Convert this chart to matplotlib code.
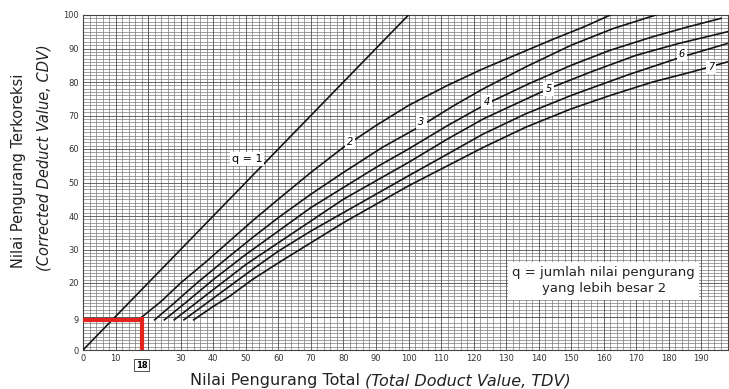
import matplotlib.pyplot as plt
import numpy as np

# Corrected deduct value curves (TDV -> CDV)
tdv_q1 = [0, 100]
cdv_q1 = [0, 100]

tdv_q2 = [17, 24, 30, 38, 45, 52, 60, 70, 80, 90, 100, 112, 123, 134, 145, 154, 162]
cdv_q2 = [9, 14.5, 20, 26.5, 32.5, 38.5, 45, 53, 60.5, 67, 73, 79, 84, 88.5, 93, 96.5, 100]

tdv_q3 = [22, 28, 35, 45, 52, 60, 70, 80, 92, 104, 114, 123, 136, 150, 163, 176]
cdv_q3 = [9, 14, 20, 28, 33.5, 39.5, 46.5, 53, 60.5, 67, 73, 78, 84.5, 91, 96, 100]

tdv_q4 = [25, 32, 40, 50, 60, 70, 80, 90, 100, 112, 124, 137, 150, 162, 175, 186, 196]
cdv_q4 = [9, 14.5, 21, 28.5, 35.5, 42.5, 48.5, 54.5, 60, 67, 73.5, 79.5, 85, 89.5, 93.5, 96.5, 99]

tdv_q5 = [28, 34, 40, 50, 60, 70, 80, 90, 100, 112, 123, 133, 143, 156, 170, 183, 198]
cdv_q5 = [9, 13.5, 18, 25.5, 32, 38.5, 45, 50.5, 56, 63, 69, 73.5, 78, 83, 88, 91.5, 95]

tdv_q6 = [31, 38, 45, 52, 60, 70, 80, 90, 100, 112, 123, 136, 150, 167, 184, 198]
cdv_q6 = [9, 14, 19, 24, 29.5, 35.5, 41, 46.5, 52, 58.5, 64.5, 70.5, 76, 82, 87.5, 91.5]

tdv_q7 = [34, 40, 45, 52, 60, 70, 80, 90, 100, 112, 123, 136, 150, 162, 175, 187, 198]
cdv_q7 = [9, 13, 16, 21, 26, 32, 38, 43.5, 49, 55, 60.5, 66.5, 72, 76, 80, 83, 86]

curve_labels = ["2", "3", "4", "5", "6", "7"]
label_tdv = [82, 104, 124, 143, 184, 193]
label_cdv = [62, 68, 74, 78, 88.5, 84.5]

x_ticks = [0, 10, 30, 40, 50, 60, 70, 80, 90, 100, 110, 120, 130, 140, 150, 160, 170, 180, 190]
y_ticks = [0, 9, 20, 30, 40, 50, 60, 70, 80, 90, 100]

# reading shown in red on the chart
read_tdv = 18
read_cdv = 9

W, H = 729, 389
fig = plt.figure(figsize=(W / 100, H / 100), dpi=100)
fig.patch.set_facecolor('white')

left, right, top, bottom = 83, 727.5, 15, 350
ax = fig.add_axes([left / W, (H - bottom) / H, (right - left) / W, (bottom - top) / H])
ax.set_xlim(0, 197.5)
ax.set_ylim(0, 100)

# graph paper
ax.set_xticks(np.arange(0, 200, 2), minor=True)
ax.set_yticks(np.arange(0, 101, 1), minor=True)
ax.grid(which='minor', color='#7a7a7a', linewidth=0.5)
ax.grid(which='major', visible=False)
for v in range(10, 200, 10):
    ax.axvline(v, color='#505050', linewidth=0.6, zorder=1)
for v in range(10, 100, 10):
    ax.axhline(v, color='#505050', linewidth=0.6, zorder=1)
ax.set_axisbelow(True)

ax.set_xticks(x_ticks)
ax.set_xticklabels([str(t) for t in x_ticks])
ax.set_yticks(y_ticks)
ax.set_yticklabels([str(t) for t in y_ticks])
ax.tick_params(which='both', length=0, labelsize=6, colors='#333333', pad=3)
for s in ax.spines.values():
    s.set_color('#444444')
    s.set_linewidth(0.8)

# curves
ax.plot(tdv_q1, cdv_q1, color='#151515', linewidth=1.2, zorder=3)
for tx, cy in [(tdv_q2, cdv_q2), (tdv_q3, cdv_q3), (tdv_q4, cdv_q4),
               (tdv_q5, cdv_q5), (tdv_q6, cdv_q6), (tdv_q7, cdv_q7)]:
    ax.plot(tx, cy, color='#151515', linewidth=1.2, zorder=3)

for lab, lx, ly in zip(curve_labels, label_tdv, label_cdv):
    ax.text(lx, ly, lab, fontsize=7, style='italic', ha='center', va='center', zorder=4,
            bbox=dict(facecolor='white', edgecolor='none', pad=1.5))

ax.text(55, 57, "q = 1", fontsize=8, ha='right', va='center', zorder=4,
        bbox=dict(facecolor='white', edgecolor='none', pad=1.2))

ax.text(160, 20.6, "q = jumlah nilai pengurang\nyang lebih besar 2", fontsize=9.5,
        ha='center', va='center', linespacing=1.3, zorder=4, color='#222222',
        bbox=dict(facecolor='white', edgecolor='none', pad=3))

# red reading lines
ax.plot([0, read_tdv], [read_cdv, read_cdv], color='#e3231c', linewidth=3, zorder=5,
        solid_capstyle='butt')
ax.plot([read_tdv, read_tdv], [read_cdv + 0.9, 0], color='#e3231c', linewidth=3, zorder=5,
        solid_capstyle='butt')
ax.text(read_tdv, -3.2, str(read_tdv), fontsize=6, fontweight='bold', ha='center', va='top',
        clip_on=False, bbox=dict(facecolor='white', edgecolor='#333333', linewidth=0.6, pad=1))

# axis titles
fig.text(365 / W, 1 - 381 / H, "Nilai Pengurang Total ", fontsize=11.5, color='#222222',
         ha='right', va='center')
fig.text(365 / W, 1 - 381 / H, "(Total Doduct Value, TDV)", fontsize=11.5, color='#222222',
         style='italic', ha='left', va='center')
fig.text(19 / W, 1 - 171 / H, "Nilai Pengurang Terkoreksi", fontsize=10.5, color='#222222',
         rotation=90, ha='center', va='center')
fig.text(44 / W, 1 - 158 / H, "(Corrected Deduct Value, CDV)", fontsize=10.5, color='#222222',
         style='italic', rotation=90, ha='center', va='center')

fig.savefig('out.png', dpi=100)
